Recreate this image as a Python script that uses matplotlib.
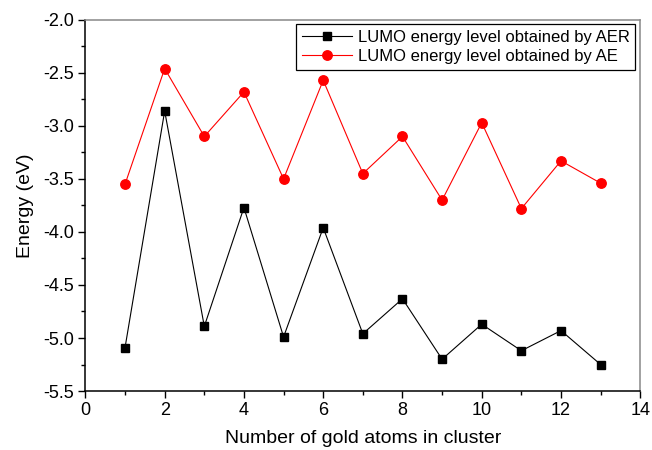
import matplotlib
matplotlib.use("Agg")
import matplotlib.pyplot as plt
from matplotlib.ticker import MultipleLocator

plt.rcParams['font.family'] = ['Liberation Sans', 'DejaVu Sans']

atoms = [1, 2, 3, 4, 5, 6, 7, 8, 9, 10, 11, 12, 13]
lumo_aer = [-5.09, -2.86, -4.89, -3.77, -4.99, -3.96, -4.96, -4.63, -5.20, -4.87, -5.12, -4.93, -5.25]
lumo_ae = [-3.55, -2.46, -3.10, -2.68, -3.50, -2.57, -3.45, -3.10, -3.70, -2.97, -3.78, -3.33, -3.54]

fig = plt.figure(figsize=(6.52, 4.5), dpi=100)
ax = fig.add_axes([0.131, 0.131, 0.851, 0.825])

ax.plot(atoms, lumo_aer, color='black', linewidth=0.8, marker='s', markersize=5.5,
        label="LUMO energy level obtained by AER")
ax.plot(atoms, lumo_ae, color='red', linewidth=0.8, marker='o', markersize=6.8,
        label="LUMO energy level obtained by AE")

ax.set_xlim(0, 14)
ax.set_ylim(-5.5, -2.0)
ax.xaxis.set_major_locator(MultipleLocator(2))
ax.xaxis.set_minor_locator(MultipleLocator(1))
ax.yaxis.set_major_locator(MultipleLocator(0.5))
ax.yaxis.set_minor_locator(MultipleLocator(0.25))
ax.yaxis.set_major_formatter(plt.FormatStrFormatter('%.1f'))

ax.tick_params(which='major', direction='out', length=5, width=1, labelsize=13, pad=3)
ax.tick_params(which='minor', direction='out', length=3, width=1)
ax.tick_params(top=False, right=False, which='both')

for side in ['left', 'bottom']:
    ax.spines[side].set_linewidth(1.1)
    ax.spines[side].set_color('black')
for side in ['top', 'right']:
    ax.spines[side].set_linewidth(1.1)
    ax.spines[side].set_color('#888888')

ax.set_xlabel("Number of gold atoms in cluster", fontsize=14, labelpad=8)
ax.set_ylabel("Energy (eV)", fontsize=14, labelpad=7)

leg = ax.legend(loc='upper right', bbox_to_anchor=(0.991, 0.988), fontsize=12,
                frameon=True, fancybox=False, edgecolor='black', framealpha=1,
                handlelength=3.0, handletextpad=0.35, borderpad=0.35,
                labelspacing=0.22, borderaxespad=0)
leg.get_frame().set_linewidth(0.9)

fig.savefig("out.png", dpi=100)
